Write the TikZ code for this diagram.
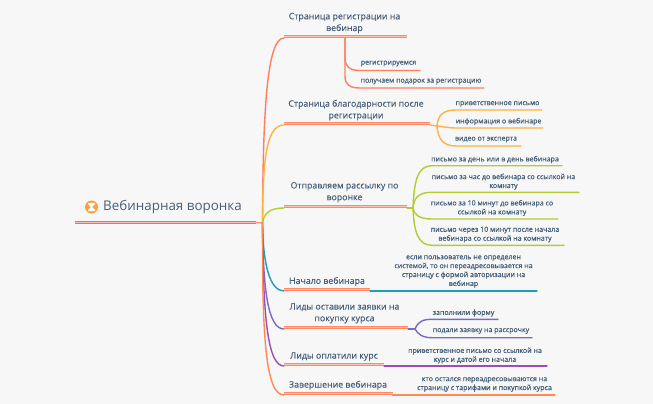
\documentclass[tikz,border=0pt]{standalone}
\usepackage{fontspec}
\setmainfont{Open Sans}
\newfontfamily\subfont[FakeBold=0.8]{Open Sans}
\newfontfamily\mainfont[FakeBold=0.25]{Open Sans}
\definecolor{bg}{HTML}{F7F7F7}
\definecolor{ink}{HTML}{46607A}
\definecolor{under}{HTML}{FF8A65}
\definecolor{underpale}{HTML}{FFC4B0}
\definecolor{rootred}{HTML}{EE6F76}
\definecolor{rootpale}{HTML}{F6BDBD}
\definecolor{cbranch}{HTML}{FF7F5C}
\definecolor{camber}{HTML}{FFB23F}
\definecolor{clime}{HTML}{B5CB30}
\definecolor{cteal}{HTML}{1E9DB5}
\definecolor{cviol}{HTML}{7A6BC0}
\definecolor{cpurp}{HTML}{A04CB5}
\definecolor{corange}{HTML}{FF8A55}
\definecolor{icono}{HTML}{FFA040}
\tikzset{
  x=1pt,y=-1pt,
  main/.style={font=\mainfont\fontsize{8.8}{11.7}\selectfont,text=ink,align=center,inner sep=0pt,anchor=center},
  leaf/.style={font=\subfont\fontsize{7.05}{8.9}\selectfont,text=ink,align=center,inner sep=0pt,anchor=center},
  wire/.style={line width=1.4pt,line cap=round},
}
\begin{document}
\begin{tikzpicture}
\useasboundingbox[fill=bg] (0,0) rectangle (653,404);
% hub
\coordinate (hub) at (262.5,223);
% root
\coordinate (rl) at (75,222.5); \coordinate (rr) at (256,222.5);
\draw[line width=1.2pt,draw=under] (rr) -- (hub);
% trunk anchors
\coordinate (b1) at (284,38);  \coordinate (b1e) at (407,38);
\coordinate (b2) at (284,125); \coordinate (b2e) at (430,125);
\coordinate (b3) at (284,208); \coordinate (b3e) at (407,208);
\coordinate (b4) at (284,291); \coordinate (b4e) at (370,291);
\coordinate (b5) at (284,329); \coordinate (b5e) at (408,329);
\coordinate (b6) at (284,366); \coordinate (b6e) at (384,366);
\coordinate (b7) at (284,395); \coordinate (b7e) at (392.5,395);

% trunk curves
\draw[wire,cbranch] (hub) .. controls (263,120) and (266,38) .. (b1);
\draw[wire,camber] (hub) .. controls (263,165) and (265,125) .. (b2);
\draw[wire,clime] (hub) .. controls (264,213) and (270,208) .. (b3);
\draw[wire,cteal] (hub) .. controls (263,265) and (270,291) .. (b4);
\draw[wire,cviol] (hub) .. controls (263,290) and (268,329) .. (b5);
\draw[wire,cpurp] (hub) .. controls (263,320) and (268,366) .. (b6);
\draw[wire,corange] (hub) .. controls (262,340) and (266,395) .. (b7);

% branch 1 leaves
\coordinate (s1) at (345,38);
\coordinate (l1) at (420,70.5); \coordinate (l2) at (484,88);
\draw[wire,cbranch] (s1) -- (345,58) .. controls (345,67) and (350,70.5) .. (360,70.5) -- (l1);
\draw[wire,cbranch] (s1) -- (345,76) .. controls (345,85) and (350,88) .. (360,88) -- (l2);
\node[leaf] (n11) at (388.5,63.5) {регистрируемся};
\node[leaf] (n12) at (421,81.5) {получаем подарок за регистрацию};

% branch 2 leaves
\coordinate (f2) at (437,126);
\draw[wire,camber] (b2e) -- (f2);
\draw[wire,camber] (f2) .. controls (438,115) and (443,110) .. (456,110) -- (542,110);
\draw[wire,camber] (f2) .. controls (445,127) and (450,128) .. (456,128) -- (543,128);
\draw[wire,camber] (f2) .. controls (438,139) and (443,146) .. (456,146) -- (521,146);
\node[leaf] (n21) at (497.5,104) {приветственное письмо};
\node[leaf] (n22) at (498.5,121.5) {информация о вебинаре};
\node[leaf] (n23) at (486,139.5) {видео от эксперта};

% branch 3 leaves
\coordinate (f3) at (413,208);
\draw[wire,clime] (b3e) -- (f3);
\draw[wire,clime] (f3) .. controls (414,180) and (418,165.7) .. (432,165.7) -- (562,165.7);
\draw[wire,clime] (f3) .. controls (414,198) and (418,192.3) .. (432,192.3) -- (579,192.3);
\draw[wire,clime] (f3) .. controls (414,214) and (418,219) .. (432,219) -- (558,219);
\draw[wire,clime] (f3) .. controls (414,232) and (418,245.3) .. (432,245.3) -- (564,245.3);
\node[leaf] (n31) at (495,159.5) {письмо за день или в день вебинара};
\node[leaf] (n32) at (503.5,181.7) {письмо за час до вебинара со ссылкой на\\комнату};
\node[leaf] (n33) at (492,208) {письмо за 10 минут до вебинара со\\ссылкой на комнату};
\node[leaf] (n34) at (495,234.5) {письмо через 10 минут после начала\\вебинара со ссылкой на комнату};

% branch 4
\draw[wire,cteal] (b4e) -- (537,291);
\node[leaf] (n41) at (463.5,271.5) {если пользователь не определен\\системой, то он переадресовывается на\\страницу с формой авторизации на\\вебинар};

% branch 5
\coordinate (f5) at (415,329);
\draw[wire,cviol] (b5e) -- (f5);
\draw[wire,cviol] (f5) .. controls (418,322) and (422,319.3) .. (432,319.3) -- (498,319.3);
\draw[wire,cviol] (f5) .. controls (418,334) and (422,337.7) .. (432,337.7) -- (532,337.7);
\node[leaf] (n51) at (463.5,313) {заполнили форму};
\node[leaf] (n52) at (481,331) {подали заявку на рассрочку};

% branch 6
\draw[wire,cpurp] (b6e) -- (547,366);
\node[leaf] (n61) at (475,355.5) {приветственное письмо со ссылкой на\\курс и датой его начала};

% branch 7
\draw[wire,corange] (b7e) -- (555,395);
\node[leaf] (n71) at (484.5,384.5) {кто остался переадресовываются на\\страницу с тарифами и покупкой курса};

% root underline
\draw[line width=2.6pt,draw=rootred] (rl) -- (rr);
\draw[line width=0.8pt,draw=rootpale] (rl) -- (rr);
\fill[icono] (91.5,207) circle (6.5);
\fill[white] (88,202.8) -- (95,202.8) -- (95,204) -- (92.2,207) -- (95,210) -- (95,211.2) -- (88,211.2) -- (88,210) -- (90.8,207) -- (88,204) -- cycle;
\node[inner sep=0pt,font=\fontsize{13.4}{16}\selectfont,text=ink,anchor=west] (root) at (103,207) {Вебинарная воронка};

% main underlines
\foreach \a/\b in {b1/b1e,b2/b2e,b3/b3e,b4/b4e,b5/b5e,b6/b6e,b7/b7e}{
  \draw[line width=2.4pt,draw=under] ([yshift=1.6pt]\a) -- ([yshift=1.6pt]\b);
  \draw[line width=0.6pt,draw=underpale] ([yshift=1.3pt]\a) -- ([yshift=1.3pt]\b);
}

% main texts
\node[main] (t1) at (344.5,23) {Страница регистрации на\\вебинар};
\node[main] (t2) at (356,110.2) {Страница благодарности после\\регистрации};
\node[main] (t3) at (344.5,192.2) {Отправляем рассылку по\\воронке};
\node[main] (t4) at (327,281.5) {Начало вебинара};
\node[main] (t5) at (344.5,313.3) {Лиды оставили заявки на\\покупку курса};
\node[main] (t6) at (334,356.5) {Лиды оплатили курс};
\node[main] (t7) at (338,385.3) {Завершение вебинара};
\end{tikzpicture}
\end{document}
